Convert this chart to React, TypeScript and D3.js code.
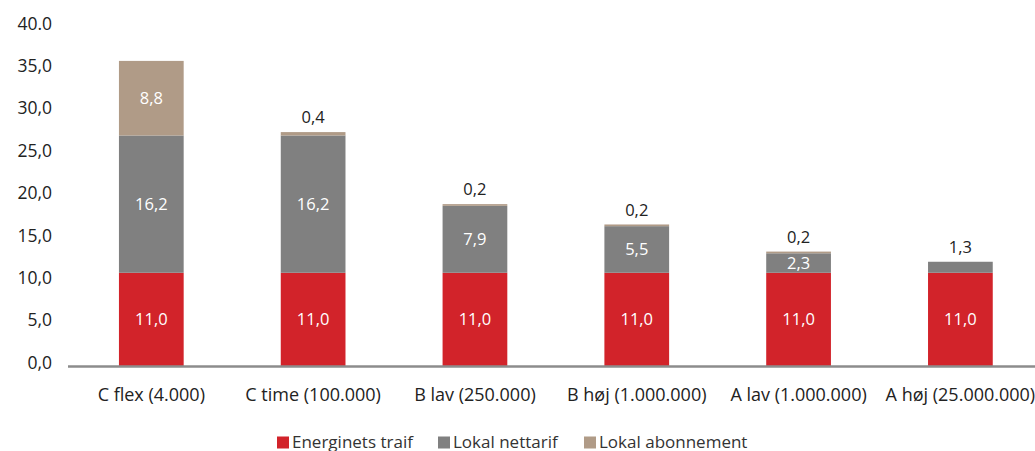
import React from "react";
import * as d3 from "d3";

const categories = [
  "C flex (4.000)",
  "C time (100.000)",
  "B lav (250.000)",
  "B høj (1.000.000)",
  "A lav (1.000.000)",
  "A høj (25.000.000)",
];
const energinet = [11.0, 11.0, 11.0, 11.0, 11.0, 11.0];
const nettarif = [16.2, 16.2, 7.9, 5.5, 2.3, 1.3];
const abonnement = [8.8, 0.4, 0.2, 0.2, 0.2, 0];
const seriesNames = ["Energinets traif", "Lokal nettarif", "Lokal abonnement"];
const seriesColors = ["#D2232A", "#808080", "#B09B87"];
const yTicks = [0, 5, 10, 15, 20, 25, 30, 35, 40];
const yTickLabels = ["0,0", "5,0", "10,0", "15,0", "20,0", "25,0", "30,0", "35,0", "40.0"];

const W = 1035;
const H = 451;
const FONT = "'Open Sans', 'Noto Sans', sans-serif";

export default function App() {
  const x = d3
    .scaleBand<string>()
    .domain(categories)
    .range([70.4, 1041.3])
    .paddingInner(0.6)
    .paddingOuter(0.3);
  const y = d3.scaleLinear().domain([0, 40]).range([366, 27]);
  const fmt = (v: number) => d3.format(".1f")(v).replace(".", ",");

  const rows = categories.map((c, i) => ({
    cat: c,
    s0: energinet[i],
    s1: nettarif[i],
    s2: abonnement[i],
  }));
  const stack = d3.stack<any>().keys(["s0", "s1", "s2"])(rows);

  const legendItems = [
    { x: 277, name: seriesNames[0], color: seriesColors[0] },
    { x: 438, name: seriesNames[1], color: seriesColors[1] },
    { x: 584, name: seriesNames[2], color: seriesColors[2] },
  ];

  return (
    <svg
      width={W}
      height={H}
      style={{ position: "absolute", left: 0, top: 0, background: "#fff" }}
      fontFamily={FONT}
    >
      {stack.map((layer, li) =>
        layer.map((d, i) => {
          const v = d[1] - d[0];
          if (v <= 0) return null;
          const bx = x(categories[i])!;
          const y0 = y(d[0]);
          const y1 = y(d[1]);
          return (
            <rect
              key={`r${li}-${i}`}
              x={bx}
              y={y1}
              width={x.bandwidth()}
              height={y0 - y1}
              fill={seriesColors[li]}
            />
          );
        })
      )}
      {stack.map((layer, li) =>
        layer.map((d, i) => {
          const v = d[1] - d[0];
          if (v <= 0) return null;
          const cx = x(categories[i])! + x.bandwidth() / 2;
          if (v >= 2) {
            return (
              <text
                key={`t${li}-${i}`}
                x={cx}
                y={(y(d[0]) + y(d[1])) / 2}
                dy="0.35em"
                textAnchor="middle"
                fill="#fff"
                fontSize={16.5}
              >
                {fmt(v)}
              </text>
            );
          }
          return (
            <text
              key={`t${li}-${i}`}
              x={cx}
              y={y(d[1]) - 14.5}
              dy="0.35em"
              textAnchor="middle"
              fill="#222"
              fontSize={16.5}
            >
              {fmt(v)}
            </text>
          );
        })
      )}
      <line x1={68} x2={W} y1={366.5} y2={366.5} stroke="#8c8c8c" strokeWidth={2.5} />
      {yTicks.map((t, i) => (
        <text
          key={`y${t}`}
          x={52}
          y={y(t) - 3.5}
          dy="0.35em"
          textAnchor="end"
          fill="#222"
          fontSize={17.5}
        >
          {yTickLabels[i]}
        </text>
      ))}
      {categories.map((c) => (
        <text
          key={`x${c}`}
          x={x(c)! + x.bandwidth() / 2}
          y={395}
          dy="0.35em"
          textAnchor="middle"
          fill="#222"
          fontSize={18}
        >
          {c}
        </text>
      ))}
      {legendItems.map((l) => (
        <g key={l.name}>
          <rect x={l.x} y={436.5} width={12} height={12} fill={l.color} />
          <text x={l.x + 15} y={442} dy="0.35em" fill="#333" fontSize={17}>
            {l.name}
          </text>
        </g>
      ))}
    </svg>
  );
}
